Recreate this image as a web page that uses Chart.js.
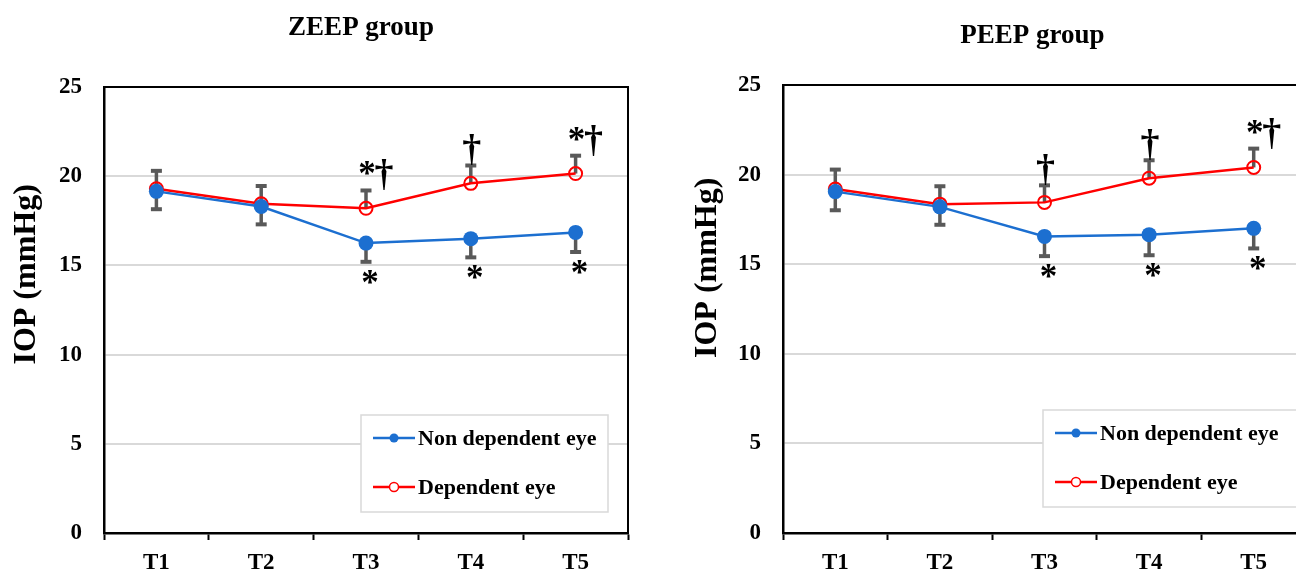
<!DOCTYPE html>
<html>
<head>
<meta charset="utf-8">
<script src="https://cdn.jsdelivr.net/npm/chart.js@4.4.0/dist/chart.umd.min.js"></script>
<style>
  html, body { margin: 0; padding: 0; background: #fff; overflow: hidden; }
  body { width: 1296px; height: 574px; position: relative; }
  canvas { position: absolute; top: 0; }
  #chart_zeep { left: 0; }
  #chart_peep { left: 690px; }
</style>
</head>
<body>
<canvas id="chart_zeep" width="650" height="574"></canvas>
<canvas id="chart_peep" width="640" height="574"></canvas>
<script>
const tempos = ["T1", "T2", "T3", "T4", "T5"];

// ZEEP
const zeepNaoDep = [19.15, 18.3, 16.25, 16.5, 16.85];
const zeepDep = [19.3, 18.45, 18.2, 19.6, 20.15];
const zeepNaoDepDp = [1.0, 1.0, 1.05, 1.05, 1.1];
const zeepDepDp = [1.0, 1.0, 1.0, 1.0, 1.0];
const zeepAcima = ["", "", "*†", "†", "*†"];
const zeepAbaixo = ["", "", "*", "*", "*"];

// PEEP
const peepNaoDep = [19.05, 18.2, 16.55, 16.65, 17.0];
const peepDep = [19.2, 18.35, 18.45, 19.8, 20.4];
const peepNaoDepDp = [1.04, 1.0, 1.1, 1.15, 1.12];
const peepDepDp = [1.08, 1.0, 0.95, 1.0, 1.05];
const peepAcima = ["", "", "†", "†", "*†"];
const peepAbaixo = ["", "", "*", "*", "*"];

const yTicks = [0, 5, 10, 15, 20, 25];

const serif = "'Times New Roman', 'Liberation Serif', serif";
const azul = "#1c6fd0";
const vermelho = "#ff0000";

const extras = {
  id: "extras",
  beforeDatasetsDraw(chart, args, o) {
    const ctx = chart.ctx, x = chart.scales.x, y = chart.scales.y;
    ctx.save();
    ctx.strokeStyle = "#595959";
    o.erros.forEach((e) => {
      e.media.forEach((m, i) => {
        const cx = x.getPixelForValue(i);
        const y0 = y.getPixelForValue(m);
        const y1 = y.getPixelForValue(m + e.dir * e.dp[i]);
        ctx.lineWidth = 3.5;
        ctx.beginPath();
        ctx.moveTo(cx, y0);
        ctx.lineTo(cx, y1);
        ctx.stroke();
        ctx.lineWidth = 4;
        ctx.beginPath();
        ctx.moveTo(cx - 5.5, y1);
        ctx.lineTo(cx + 5.5, y1);
        ctx.stroke();
      });
    });
    ctx.restore();
  },
  afterDraw(chart, args, o) {
    const ctx = chart.ctx, a = chart.chartArea, x = chart.scales.x, y = chart.scales.y;
    ctx.save();

    // moldura (topo e direita)
    ctx.strokeStyle = "#000";
    ctx.lineWidth = 2;
    ctx.beginPath();
    ctx.moveTo(a.left, a.top);
    ctx.lineTo(a.right, a.top);
    ctx.lineTo(a.right, a.bottom);
    ctx.stroke();

    // titulos
    ctx.fillStyle = "#000";
    ctx.textAlign = "center";
    ctx.textBaseline = "alphabetic";
    ctx.font = "bold 27px " + serif;
    ctx.fillText(o.titulo, (a.left + a.right) / 2 + o.tituloDx, o.tituloY);

    ctx.save();
    ctx.translate(a.left - o.yTituloDx, a.top + (a.bottom - a.top) * o.yTituloPos);
    ctx.rotate(-Math.PI / 2);
    ctx.textBaseline = "middle";
    ctx.font = "bold 32px " + serif;
    ctx.fillText("IOP (mmHg)", 0, 0);
    ctx.restore();

    // marcas de significancia
    ctx.textAlign = "center";
    ctx.textBaseline = "alphabetic";
    o.acima.forEach((s, i) => {
      if (!s) return;
      const cx = x.getPixelForValue(i);
      const topo = y.getPixelForValue(o.dep[i] + o.depDp[i]);
      if (s.includes("*")) {
        ctx.font = "bold 35px " + serif;
        ctx.fillText("*", cx + 1, topo - 22 + 17);
      }
      if (s.includes("†")) {
        ctx.font = "bold 38px " + serif;
        ctx.fillText("†", s.length > 1 ? cx + 18 : cx + 1, topo - 4);
      }
    });
    ctx.font = "bold 35px " + serif;
    o.abaixo.forEach((s, i) => {
      if (!s) return;
      const cx = x.getPixelForValue(i);
      const base = y.getPixelForValue(o.naoDep[i] - o.naoDepDp[i]);
      ctx.fillText(s, cx + 4, base + 15 + 17);
    });

    // legenda
    const lx = a.right - o.legDireita - o.legLargura;
    const ly = a.bottom - o.legBaixo - 97;
    ctx.fillStyle = "#fff";
    ctx.fillRect(lx, ly, o.legLargura, 97);
    ctx.strokeStyle = "#d9d9d9";
    ctx.lineWidth = 1.5;
    ctx.strokeRect(lx, ly, o.legLargura, 97);
    chart.data.datasets.forEach((ds, k) => {
      const ry = ly + 23 + k * 49;
      ctx.strokeStyle = ds.borderColor;
      ctx.lineWidth = 2.5;
      ctx.beginPath();
      ctx.moveTo(lx + 12, ry);
      ctx.lineTo(lx + 54, ry);
      ctx.stroke();
      ctx.beginPath();
      ctx.arc(lx + 33, ry, 4.5, 0, Math.PI * 2);
      if (ds.pointBackgroundColor !== "transparent") {
        ctx.fillStyle = ds.pointBackgroundColor;
        ctx.fill();
      } else {
        ctx.fillStyle = "#fff";
        ctx.fill();
        ctx.lineWidth = 1.5;
        ctx.stroke();
      }
      ctx.fillStyle = "#000";
      ctx.font = "bold 22px " + serif;
      ctx.textAlign = "left";
      ctx.textBaseline = "middle";
      ctx.fillText(ds.label, lx + 57, ry + 1);
    });

    ctx.restore();
  },
};

function desenharPainel(canvas, cfg) {
  new Chart(canvas, {
    type: "line",
    data: {
      labels: tempos,
      datasets: [
        {
          label: "Non dependent eye",
          data: cfg.naoDep,
          borderColor: azul,
          backgroundColor: azul,
          pointBackgroundColor: azul,
          borderWidth: 2.5,
          pointRadius: 7.5,
          pointBorderWidth: 0,
        },
        {
          label: "Dependent eye",
          data: cfg.dep,
          borderColor: vermelho,
          backgroundColor: vermelho,
          pointBackgroundColor: "transparent",
          borderWidth: 2.5,
          pointRadius: 6.5,
          pointBorderWidth: 2,
        },
      ],
    },
    options: {
      responsive: false,
      animation: false,
      layout: {
        padding: { top: cfg.topo, right: cfg.direita, left: 0, bottom: 0 },
      },
      scales: {
        x: {
          offset: true,
          grid: {
            offset: true,
            drawOnChartArea: false,
            drawTicks: true,
            tickLength: 7,
            tickColor: "#000",
            tickWidth: 2,
          },
          border: { color: "#000", width: 2.5 },
          ticks: {
            color: "#000",
            padding: 9,
            font: { family: serif, size: 23, weight: "bold" },
          },
          afterFit: (s) => { s.height = 41; },
        },
        y: {
          min: 0,
          max: 25,
          afterBuildTicks: (s) => { s.ticks = yTicks.map((v) => ({ value: v })); },
          grid: { color: "#d9d9d9", lineWidth: 2, drawTicks: false },
          border: { color: "#000", width: 2.5 },
          ticks: {
            color: "#000",
            padding: 22,
            font: { family: serif, size: 23, weight: "bold" },
          },
          afterFit: (s) => { s.width = cfg.yLargura; },
        },
      },
      plugins: {
        legend: { display: false },
        title: { display: false },
        tooltip: { enabled: false },
        extras: {
          titulo: cfg.titulo,
          tituloDx: cfg.tituloDx,
          tituloY: cfg.tituloY,
          yTituloDx: cfg.yTituloDx,
          yTituloPos: cfg.yTituloPos,
          naoDep: cfg.naoDep,
          dep: cfg.dep,
          naoDepDp: cfg.naoDepDp,
          depDp: cfg.depDp,
          acima: cfg.acima,
          abaixo: cfg.abaixo,
          legLargura: cfg.legLargura,
          legDireita: cfg.legDireita,
          legBaixo: cfg.legBaixo,
          erros: [
            { media: cfg.naoDep, dp: cfg.naoDepDp, dir: -1 },
            { media: cfg.dep, dp: cfg.depDp, dir: 1 },
          ],
        },
      },
    },
    plugins: [extras],
  });
}

desenharPainel(document.getElementById("chart_zeep"), {
  titulo: "ZEEP group",
  naoDep: zeepNaoDep, dep: zeepDep, naoDepDp: zeepNaoDepDp, depDp: zeepDepDp,
  acima: zeepAcima, abaixo: zeepAbaixo,
  topo: 87, direita: 22, yLargura: 104,
  tituloDx: -5, tituloY: 35,
  yTituloDx: 77, yTituloPos: 0.42,
  legLargura: 247, legDireita: 20, legBaixo: 21,
});

desenharPainel(document.getElementById("chart_peep"), {
  titulo: "PEEP group",
  naoDep: peepNaoDep, dep: peepDep, naoDepDp: peepNaoDepDp, depDp: peepDepDp,
  acima: peepAcima, abaixo: peepAbaixo,
  topo: 85, direita: 24, yLargura: 93,
  tituloDx: -12, tituloY: 43,
  yTituloDx: 75, yTituloPos: 0.408,
  legLargura: 255, legDireita: 8, legBaixo: 26,
});
</script>
</body>
</html>
